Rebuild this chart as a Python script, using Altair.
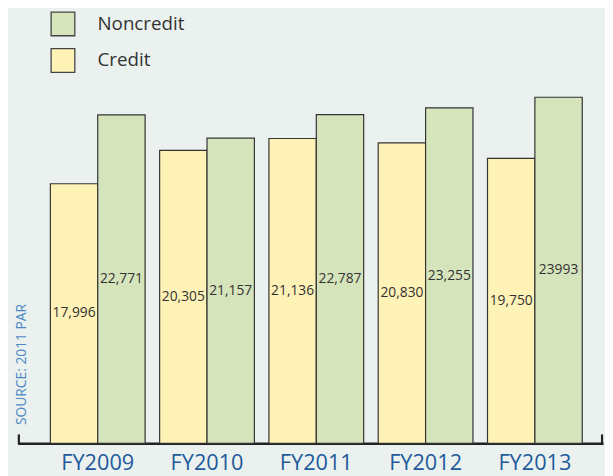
import altair as alt
import pandas as pd

years = ["FY2009", "FY2010", "FY2011", "FY2012", "FY2013"]
credit = [17996, 20305, 21136, 20830, 19750]
noncredit = [22771, 21157, 22787, 23255, 23993]
credit_labels = ["17,996", "20,305", "21,136", "20,830", "19,750"]
noncredit_labels = ["22,771", "21,157", "22,787", "23,255", "23993"]
series = ["Credit", "Noncredit"]

rows = []
for i, y in enumerate(years):
    rows.append({"year": y, "series": "Credit", "value": credit[i], "label": credit_labels[i]})
    rows.append({"year": y, "series": "Noncredit", "value": noncredit[i], "label": noncredit_labels[i]})
df = pd.DataFrame(rows)

FONT = "Open Sans"
W, H = 593, 380

x_scale = alt.Scale(paddingInner=0.133, paddingOuter=0.2437, align=0.61)
x_enc = alt.X(
    "year:N",
    sort=years,
    scale=x_scale,
    axis=alt.Axis(
        title=None,
        domainColor="#222222",
        domainWidth=2.5,
        ticks=False,
        labelAngle=0,
        labelFont=FONT,
        labelFontSize=22,
        labelColor="#1E5A9C",
        labelPadding=10,
    ),
)
xo_enc = alt.XOffset("series:N", sort=series, scale=alt.Scale(paddingInner=0, paddingOuter=0))

bars = alt.Chart(df).mark_bar(stroke="#333333", strokeWidth=1.2).encode(
    x=x_enc,
    xOffset=xo_enc,
    y=alt.Y(
        "value:Q",
        scale=alt.Scale(domain=[0, 26000], nice=False),
        axis=alt.Axis(
            title="SOURCE: 2011 PAR",
            labels=False,
            ticks=False,
            domain=False,
            grid=False,
            titleFont=FONT,
            titleFontSize=14,
            titleFontWeight="normal",
            titleColor="#4C88C4",
            titleAngle=270,
            titleX=4,
            titleY=361,
            titleAlign="left",
            titleBaseline="middle",
        ),
    ),
    color=alt.Color(
        "series:N",
        scale=alt.Scale(domain=["Noncredit", "Credit"], range=["#D6E4BC", "#FFF2B6"]),
        legend=alt.Legend(
            title=None,
            orient="none",
            legendX=32.7,
            legendY=-58,
            padding=0,
            symbolType="square",
            symbolSize=576,
            symbolStrokeColor="#444444",
            symbolStrokeWidth=1.3,
            labelFont=FONT,
            labelFontSize=19,
            labelColor="#333333",
            labelOffset=22,
            rowPadding=7,
        ),
    ),
)

labels = alt.Chart(df).transform_calculate(mid="datum.value / 2").mark_text(
    font=FONT, fontSize=14, color="#333333", baseline="middle"
).encode(
    x=alt.X("year:N", sort=years, scale=x_scale),
    xOffset=xo_enc,
    y=alt.Y("mid:Q"),
    text="label:N",
)

ends = alt.Chart(pd.DataFrame({"k": [0]})).mark_rule(color="#222222", strokeWidth=2.2).encode(
    x=alt.value(1), y=alt.value(H - 9), y2=alt.value(H + 1)
)
ends2 = alt.Chart(pd.DataFrame({"k": [0]})).mark_rule(color="#222222", strokeWidth=2.2).encode(
    x=alt.value(W - 1), y=alt.value(H - 9), y2=alt.value(H + 1)
)

chart = alt.layer(bars, labels, ends, ends2).properties(
    width=W,
    height=H,
    autosize="none",
    padding={"left": 10, "top": 58, "right": 2, "bottom": 30},
    background="#EAF1EE",
).configure_view(stroke=None)

chart.save("out.html", embed_options={"renderer": "svg", "actions": False})
